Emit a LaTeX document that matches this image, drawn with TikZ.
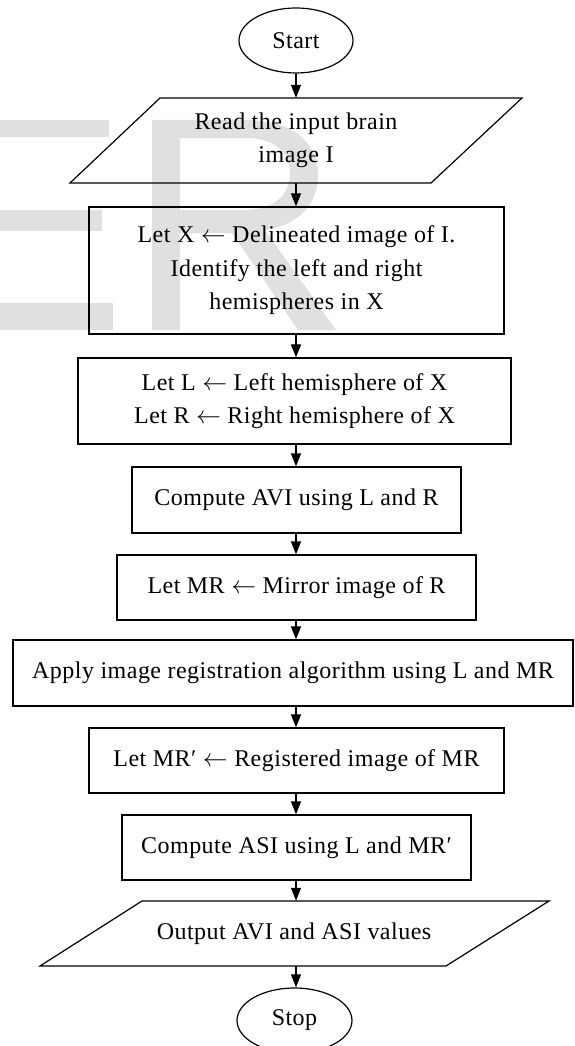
\documentclass[tikz,border=0pt]{standalone}
\usepackage{fontspec}
\setmainfont{Liberation Serif}[LetterSpace=2.0]
\usetikzlibrary{arrows.meta,shapes.geometric}
\definecolor{wm}{gray}{0.88}
\begin{document}
\begin{tikzpicture}[x=1pt,y=-1pt,
  every node/.style={font=\fontsize{24}{33.5}\selectfont, align=center, inner sep=0pt},
  box/.style={draw, line width=1.25pt, rectangle},
  term/.style={draw, line width=1.2pt, ellipse},
  iotext/.style={rectangle},
  ioline/.style={draw, line width=1.2pt, line join=miter},
  flow/.style={line width=1.2pt, -{Triangle[length=13pt,width=10pt]}}]
\useasboundingbox (0,0) rectangle (574,1046);
% watermark
\fill[wm] (0,120) rectangle (109,137);
\fill[wm] (0,210) rectangle (102,231);
\fill[wm] (0,303) rectangle (113,330);
\fill[wm, even odd rule]
  (152,120) -- (245,120) .. controls (290,120) and (318,140) .. (318,175)
  .. controls (318,205) and (298,225) .. (265,230) -- (336,330) -- (298,330)
  -- (232,233) -- (180,233) -- (180,330) -- (152,330) -- cycle
  (180,138) -- (245,138) .. controls (275,138) and (290,152) .. (290,174)
  .. controls (290,196) and (272,210) .. (245,210) -- (180,210) -- cycle;
% nodes
\node[term, minimum width=114pt, minimum height=65pt] (start) at (296,40.5) {Start};
\draw[ioline] (160,98) -- (522,98) -- (431,183) -- (70,183) -- cycle;
\node[iotext, minimum width=270pt, minimum height=85pt] (p1) at (296,140.5) {Read the input brain\\image I};
\node[box, minimum width=415pt, minimum height=127pt] (b3) at (296.5,270.5)
  {Let X $\leftarrow$ Delineated image of I.\\Identify the left and right\\hemispheres in X};
\node[box, minimum width=433pt, minimum height=86pt] (b4) at (294.5,401)
  {Let L $\leftarrow$ Left hemisphere of X\\Let R $\leftarrow$ Right hemisphere of X};
\node[box, minimum width=329pt, minimum height=66pt] (b5) at (296.5,500) {Compute AVI using L and R};
\node[box, minimum width=359pt, minimum height=65pt] (b6) at (296.5,587.5) {Let MR $\leftarrow$ Mirror image of R};
\node[box, minimum width=560pt, minimum height=66pt] (b7) at (293,673) {Apply image registration algorithm using L and MR};
\node[box, minimum width=415pt, minimum height=65pt] (b8) at (296.5,760.5) {Let MR′ $\leftarrow$ Registered image of MR};
\node[box, minimum width=349pt, minimum height=65pt] (b9) at (296.5,847.5) {Compute ASI using L and MR′};
\draw[ioline] (142,901) -- (549,901) -- (446,966) -- (40,966) -- cycle;
\node[iotext, minimum width=300pt, minimum height=65pt] (p2) at (294,933.5) {Output AVI and ASI values};
\node[term, minimum width=115pt, minimum height=65pt] (stop) at (294.5,1020.5) {Stop};
% connectors
\draw[flow] (start.south -| start.center) -- (p1.north -| start.center);
\draw[flow] (p1.south -| start.center) -- (b3.north -| start.center);
\draw[flow] (b3.south -| start.center) -- (b4.north -| start.center);
\draw[flow] (b4.south -| start.center) -- (b5.north -| start.center);
\draw[flow] (b5.south -| start.center) -- (b6.north -| start.center);
\draw[flow] (b6.south -| start.center) -- (b7.north -| start.center);
\draw[flow] (b7.south -| start.center) -- (b8.north -| start.center);
\draw[flow] (b8.south -| start.center) -- (b9.north -| start.center);
\draw[flow] (b9.south -| start.center) -- (p2.north -| start.center);
\draw[flow] (p2.south -| start.center) -- (stop.north -| start.center);
\end{tikzpicture}
\end{document}
